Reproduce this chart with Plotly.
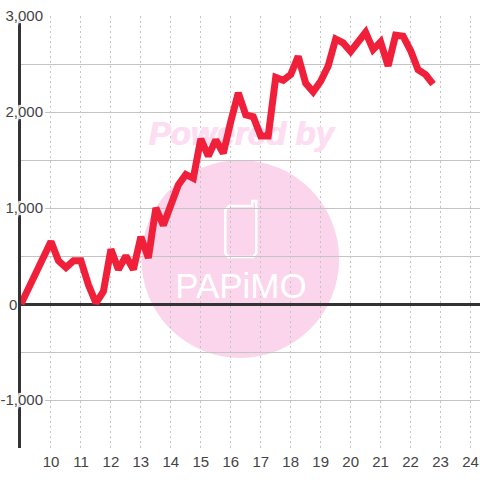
import plotly.graph_objects as go

hours = [9, 9.25, 9.5, 9.75, 10, 10.25, 10.5, 10.75, 11, 11.25, 11.5, 11.75, 12, 12.25, 12.5, 12.75,
         13, 13.25, 13.5, 13.75, 14, 14.25, 14.5, 14.75, 15, 15.25, 15.5, 15.75, 16, 16.25, 16.5, 16.75,
         17, 17.25, 17.5, 17.75, 18, 18.25, 18.5, 18.75, 19, 19.25, 19.5, 19.75, 20, 20.25, 20.5, 20.75,
         21, 21.25, 21.5, 21.75, 22, 22.25, 22.5, 22.75]
values = [0, 165, 330, 490, 650, 450, 380, 450, 450, 200, 10, 130, 570, 360, 500, 360,
          700, 480, 1000, 820, 1030, 1240, 1350, 1310, 1720, 1540, 1710, 1570, 1900, 2200, 1970, 1950,
          1750, 1750, 2360, 2330, 2390, 2580, 2300, 2210, 2320, 2480, 2760, 2720, 2630, 2730, 2830, 2650,
          2730, 2480, 2800, 2790, 2640, 2440, 2390, 2290]
x_ticks = list(range(10, 25))
y_major = [-1000, 0, 1000, 2000, 3000]
y_labels = ["-1,000", "", "1,000", "2,000", "3,000"]
y_minor = [-1500, -500, 500, 1500, 2500]

L, R, T, B = 20.5, 480, 16, 448
PINK = "#FBD5EC"
WM = "#FCDDF1"
def px(v): return (v - L) / (R - L)
def py(v): return (B - v) / (B - T)

halo = ", ".join(f"white {a}px {b}px 1px" for a in (-2, 0, 2) for b in (-2, 0, 2))
thick = f"{WM} 1px 0 0"

fig = go.Figure()
fig.add_trace(go.Scatter(x=[16.34], y=[1740], mode="text", text=["<b><i>Powered by</i></b>"], hoverinfo="skip",
                         textfont=dict(family="Liberation Sans", size=33, color=WM, shadow=thick), textposition="middle center"))
fig.add_trace(go.Scatter(x=[16.34], y=[150], mode="text", text=["PAPiMO"], hoverinfo="skip",
                         textfont=dict(family="Liberation Sans", size=35, color="white"), textposition="middle center"))
fig.add_trace(go.Scatter(x=hours, y=values, mode="lines", line=dict(color="#F0203A", width=7, shape="linear"), hoverinfo="skip"))

shapes = [
    dict(type="circle", xref="paper", yref="paper", layer="below", x0=px(141), x1=px(339), y0=py(358), y1=py(160),
         fillcolor=PINK, line=dict(width=0)),
]
def pth(points):
    return "M" + " L".join(f"{px(a):.4f} {py(b):.4f}" for a, b in points)
phone = [(229, 206), (252, 206), (252, 201), (256, 201), (256, 253), (253, 257), (228, 257), (225, 253), (225, 210), (229, 206)]
shapes.append(dict(type="path", xref="paper", yref="paper", layer="below", path=pth(phone) + " Z",
                   line=dict(color="white", width=2.5)))

fig.update_layout(
    width=480, height=480, autosize=False, showlegend=False,
    margin=dict(l=20.5, r=0, t=16, b=32),
    paper_bgcolor="white", plot_bgcolor="rgba(0,0,0,0)",
    shapes=shapes,
    annotations=[dict(text="0", xref="paper", yref="y", x=px(18), y=0, xanchor="right", yanchor="middle",
                      showarrow=False, font=dict(family="Liberation Sans", size=15, color="#444444"))],
    xaxis=dict(range=[9, 9 + (R - L) / 30], tickmode="array", tickvals=x_ticks, ticktext=[str(t) for t in x_ticks],
               automargin=False,
               showgrid=True, gridcolor="#C4C4C4", griddash="2px,3px", gridwidth=1, zeroline=False,
               ticks="", ticklen=0, showline=False,
               tickfont=dict(family="Liberation Sans", size=15, color="#444444"), ticklabelstandoff=3),
    yaxis=dict(range=[-1500, 3000], tickmode="array", tickvals=y_major, ticktext=y_labels,
               automargin=False,
               minor=dict(tickmode="array", tickvals=y_minor, showgrid=True, gridcolor="#C4C4C4", gridwidth=1, ticks=""),
               showgrid=True, gridcolor="#C4C4C4", gridwidth=1,
               zeroline=True, zerolinecolor="#333333", zerolinewidth=3,
               showline=True, linecolor="#333333", linewidth=3, ticks="",
               ticklabelstandoff=-28,
               tickfont=dict(family="Liberation Sans", size=15, color="#444444", shadow=halo)),
)
fig.write_html("out.html", config={"displayModeBar": False},
               post_script="document.body.style.margin='0';document.documentElement.style.overflow='hidden';")
